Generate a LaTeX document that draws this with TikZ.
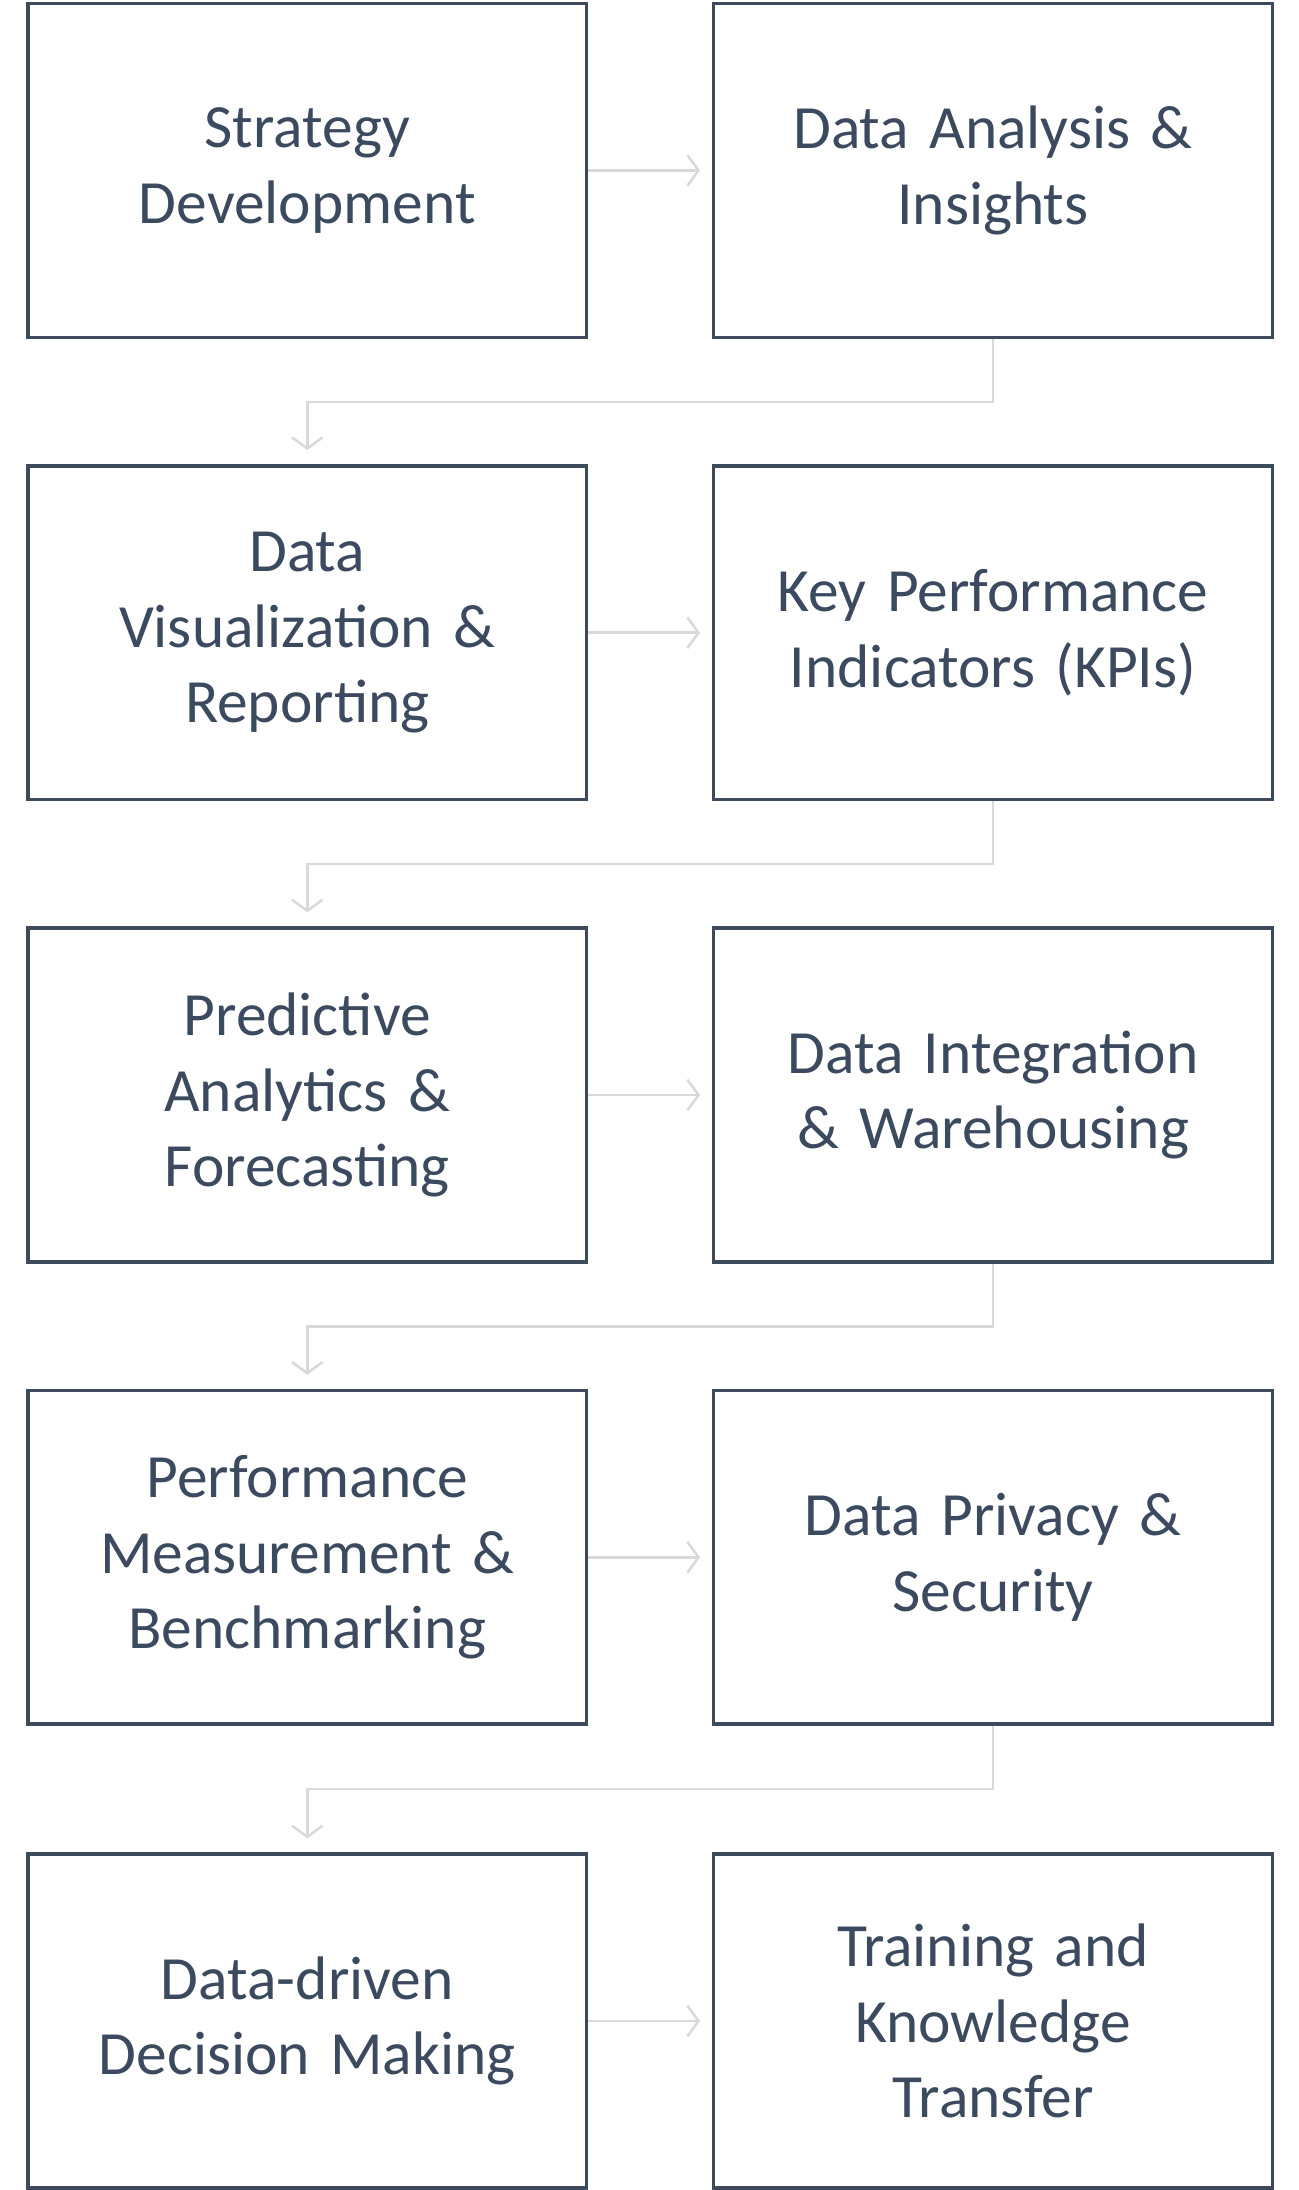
\documentclass[tikz,border=0pt]{standalone}
\usepackage{fontspec}
\setmainfont{Carlito}
\usetikzlibrary{arrows.meta}
\definecolor{boxline}{HTML}{3D4A5C}
\definecolor{boxtext}{HTML}{3B4A5E}
\definecolor{flow}{HTML}{D9D9D9}
\tikzset{stage/.style={draw = boxline, line width = 2.5pt, minimum width = 400pt, minimum height = 239pt,
  text width = 370pt, align = center, text = boxtext, font = \fontsize{44}{54}\selectfont, inner sep = 0pt}}
\tikzset{flowline/.style={draw = flow, line width = 1.8pt, -{Straight Barb[length = 8pt, width = 22pt, line width = 1.8pt]}}}
\begin{document}
\begin{tikzpicture}[x = 1pt, y = 1pt]
  \useasboundingbox (0,0) rectangle (930,-1568);
  \node[stage] (A) at (220,-122) {Strategy\\Development};
  \node[stage] (B) at (711,-122) {Data Analysis \&\\Insights};
  \node[stage] (C) at (220,-453) {Data\\Visualization \&\\Reporting};
  \node[stage] (D) at (711,-453) {Key Performance\\Indicators (KPIs)};
  \node[stage] (E) at (220,-784) {Predictive\\Analytics \&\\Forecasting};
  \node[stage] (F) at (711,-784) {Data Integration\\\& Warehousing};
  \node[stage] (G) at (220,-1115) {Performance\\Measurement \&\\Benchmarking};
  \node[stage] (H) at (711,-1115) {Data Privacy \&\\Security};
  \node[stage] (I) at (220,-1447) {Data-driven\\Decision Making};
  \node[stage] (J) at (711,-1447) {Training and\\Knowledge\\Transfer};

  \draw[flowline] (A.east) -- ++(80,0);
  \draw[flowline] (C.east) -- ++(80,0);
  \draw[flowline] (E.east) -- ++(80,0);
  \draw[flowline] (G.east) -- ++(80,0);
  \draw[flowline] (I.east) -- ++(80,0);

  \draw[flowline] (B.south) -- ++(0,-45) -| ([yshift=10pt]C.north);
  \draw[flowline] (D.south) -- ++(0,-45) -| ([yshift=10pt]E.north);
  \draw[flowline] (F.south) -- ++(0,-45) -| ([yshift=10pt]G.north);
  \draw[flowline] (H.south) -- ++(0,-45) -| ([yshift=10pt]I.north);
\end{tikzpicture}
\end{document}
